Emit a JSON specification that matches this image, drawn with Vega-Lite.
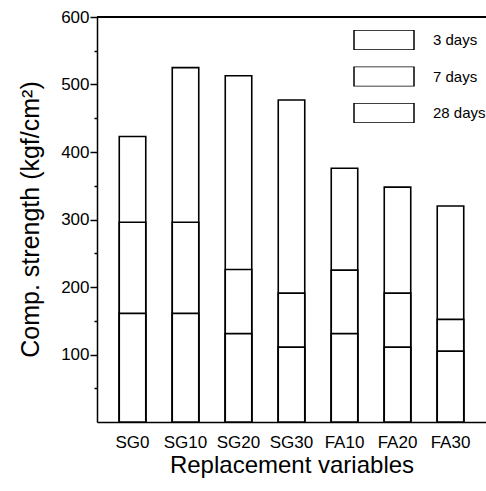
{
  "$schema": "https://vega.github.io/schema/vega-lite/v6.json",
  "width": 389,
  "height": 405,
  "autosize": {"type": "none"},
  "padding": {"left": 97, "top": 17, "right": 0, "bottom": 69},
  "config": {
    "font": "Liberation Sans",
    "view": {"stroke": null},
    "axis": {"domainColor": "black", "domainWidth": 1.5, "tickColor": "black", "tickWidth": 1.5, "labelColor": "black", "titleColor": "black", "titleFontWeight": "normal", "grid": false},
    "legend": {"labelColor": "black"}
  },
  "data": {
    "values": [
      {"mix": "SG0", "age": "28 days", "strength": 423},
      {"mix": "SG0", "age": "7 days", "strength": 296},
      {"mix": "SG0", "age": "3 days", "strength": 161},
      {"mix": "SG10", "age": "28 days", "strength": 525},
      {"mix": "SG10", "age": "7 days", "strength": 296},
      {"mix": "SG10", "age": "3 days", "strength": 161},
      {"mix": "SG20", "age": "28 days", "strength": 513},
      {"mix": "SG20", "age": "7 days", "strength": 226},
      {"mix": "SG20", "age": "3 days", "strength": 131},
      {"mix": "SG30", "age": "28 days", "strength": 477},
      {"mix": "SG30", "age": "7 days", "strength": 191},
      {"mix": "SG30", "age": "3 days", "strength": 111},
      {"mix": "FA10", "age": "28 days", "strength": 376},
      {"mix": "FA10", "age": "7 days", "strength": 225},
      {"mix": "FA10", "age": "3 days", "strength": 131},
      {"mix": "FA20", "age": "28 days", "strength": 348},
      {"mix": "FA20", "age": "7 days", "strength": 191},
      {"mix": "FA20", "age": "3 days", "strength": 111},
      {"mix": "FA30", "age": "28 days", "strength": 320},
      {"mix": "FA30", "age": "7 days", "strength": 152},
      {"mix": "FA30", "age": "3 days", "strength": 105}
    ]
  },
  "resolve": {"axis": {"y": "independent"}},
  "layer": [
    {
      "mark": {"type": "bar", "stroke": "black", "strokeWidth": 1.6, "opacity": 1},
      "encoding": {
        "x": {
          "field": "mix", "type": "nominal", "sort": null,
          "scale": {"paddingInner": 0.5, "paddingOuter": 0.42},
          "axis": {"title": "Replacement variables", "labelAngle": 0, "labelFontSize": 17, "ticks": false, "tickSize": 0, "labelPadding": 12, "titleFontSize": 24, "titleY": 31, "titleBaseline": "top"}
        },
        "y": {
          "field": "strength", "type": "quantitative", "stack": null,
          "scale": {"domain": [0, 600], "nice": false},
          "axis": {
            "orient": "left",
            "title": "Comp. strength (kgf/cm²)",
            "values": [100, 200, 300, 400, 500, 600],
            "tickSize": 7,
            "labelFontSize": 17, "labelPadding": 1,
            "titleFontSize": 25, "titleAngle": -90, "titleX": -59, "titleY": 202, "titleAlign": "center", "titleBaseline": "alphabetic"
          }
        },
        "color": {
          "field": "age", "type": "nominal",
          "scale": {"domain": ["3 days", "7 days", "28 days"], "range": ["#ffffff", "#ffffff", "#ffffff"]},
          "legend": {
            "title": null, "orient": "none", "legendX": 256, "legendY": 13, "padding": 0,
            "symbolType": "M-1,-0.333H1V0.333H-1Z", "symbolSize": 3600, "clipHeight": 20,
            "symbolStrokeColor": "black", "symbolStrokeWidth": 1.5, "symbolOpacity": 1,
            "rowPadding": 16.5, "labelOffset": 18, "labelFontSize": 15
          }
        },
        "order": {"field": "strength", "sort": "descending"}
      }
    },
    {
      "mark": {"type": "rule", "color": "black", "strokeWidth": 1.5},
      "encoding": {
        "y": {
          "datum": 600, "type": "quantitative",
          "axis": {"orient": "left", "title": null, "values": [50, 150, 250, 350, 450, 550], "tickSize": 3, "labels": false, "domain": false}
        }
      }
    }
  ]
}
